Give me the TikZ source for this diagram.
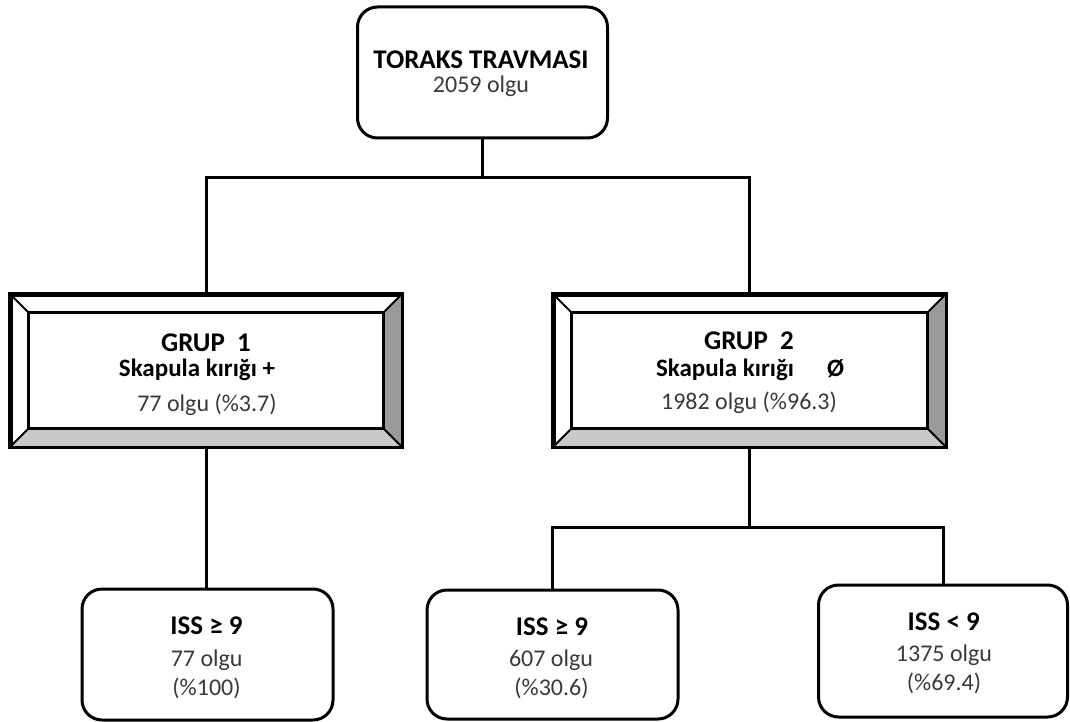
\documentclass[tikz,border=0pt]{standalone}
\usepackage{fontspec}
\setmainfont{Carlito}
\usetikzlibrary{calc}
\definecolor{txtgray}{HTML}{3A3A3A}
\definecolor{bevdark}{HTML}{9A9A9A}
\definecolor{bevlight}{HTML}{C8C8C8}
\tikzset{
  rbox/.style={draw=black, line width=3pt, rounded corners=20pt, fill=white, inner sep=0pt},
  gbox/.style={draw=black, line width=3pt, inner sep=0pt},
  conn/.style={line width=3pt, draw=black},
  bevline/.style={line width=2.6pt, draw=black},
  ttl/.style={font=\fontsize{27}{30}\selectfont\bfseries, text=black, anchor=base, inner sep=0pt},
  sub/.style={font=\fontsize{25}{28}\selectfont\bfseries, text=black, anchor=base, inner sep=0pt},
  reg/.style={font=\fontsize{24}{28}\selectfont, text=txtgray, anchor=base, inner sep=0pt},
}
\begin{document}
\begin{tikzpicture}[x=1pt,y=-1pt]
\useasboundingbox (0,0) rectangle (1070,722);
\fill[white] (0,0) rectangle (1070,722);

% boxes
\node[rbox, minimum width=250pt, minimum height=131pt] (top) at (482.5,72.5) {};
\node[gbox, minimum width=390pt, minimum height=151pt] (g1) at (206,370.5) {};
\node[gbox, minimum width=391pt, minimum height=151pt] (g2) at (749.5,370.5) {};
\node[rbox, minimum width=251pt, minimum height=131pt] (b1) at (207.5,654.5) {};
\node[rbox, minimum width=251pt, minimum height=129pt] (b2) at (552.5,654.5) {};
\node[rbox, minimum width=249pt, minimum height=132pt] (b3) at (943,651) {};

% bevels
\foreach \g in {g1,g2}{
  \fill[bevdark] (\g.north east) -- (\g.south east) -- ($(\g.south east)+(-19,-19)$) -- ($(\g.north east)+(-19,19)$) -- cycle;
  \fill[bevlight] (\g.south west) -- (\g.south east) -- ($(\g.south east)+(-19,-19)$) -- ($(\g.south west)+(19,-19)$) -- cycle;
  \draw[bevline] ($(\g.north west)+(19,19)$) rectangle ($(\g.south east)+(-19,-19)$);
  \draw[line width=2pt] (\g.north west) -- ($(\g.north west)+(19,19)$);
  \draw[line width=2pt] (\g.north east) -- ($(\g.north east)+(-19,19)$);
  \draw[line width=2pt] (\g.south west) -- ($(\g.south west)+(19,-19)$);
  \draw[line width=2pt] (\g.south east) -- ($(\g.south east)+(-19,-19)$);
  \draw[gbox] (\g.north west) rectangle (\g.south east);
}

% connectors
\coordinate (jt) at (482.5,178);
\coordinate (jb) at (749.5,527);
\draw[conn] (top.south) -- (jt);
\draw[conn] (g1.north) -- (g1.north |- jt) -- (g2.north |- jt) -- (g2.north);
\draw[conn] (g1.south) -- (g1.south |- b1.north);
\draw[conn] (g2.south) -- (jb);
\draw[conn] (b2.north) -- (b2.north |- jb) -- (b3.north |- jb) -- (b3.north);

% texts
\node[ttl] (tt1) at (481,69) {TORAKS TRAVMASI};
\node[reg] (tt2) at (481,93) {2059 olgu};

\node[ttl] (g1a) at (206,351) {GRUP\ \ 1};
\node[sub] (g1b) at (197,376) {Skapula kırığı +};
\node[reg] (g1c) at (207,411.5) {77 olgu (\%3.7)};

\node[ttl] (g2a) at (749,349) {GRUP\ \ 2};
\node[sub] (g2b) at (750,376.5) {Skapula kırığı\hspace{33pt}Ø};
\node[reg] (g2c) at (749,409) {1982 olgu (\%96.3)};

\node[ttl] (b1a) at (206.5,634) {ISS ≥ 9};
\node[reg] (b1b) at (206.7,666) {77 olgu};
\node[reg] (b1c) at (206.5,695) {(\%100)};

\node[ttl] (b2a) at (552,635) {ISS ≥ 9};
\node[reg] (b2b) at (551,666) {607 olgu};
\node[reg] (b2c) at (551.5,695) {(\%30.6)};

\node[ttl] (b3a) at (943.7,630.7) {ISS < 9};
\node[reg] (b3b) at (944,661.7) {1375 olgu};
\node[reg] (b3c) at (944,690.7) {(\%69.4)};
\end{tikzpicture}
\end{document}
